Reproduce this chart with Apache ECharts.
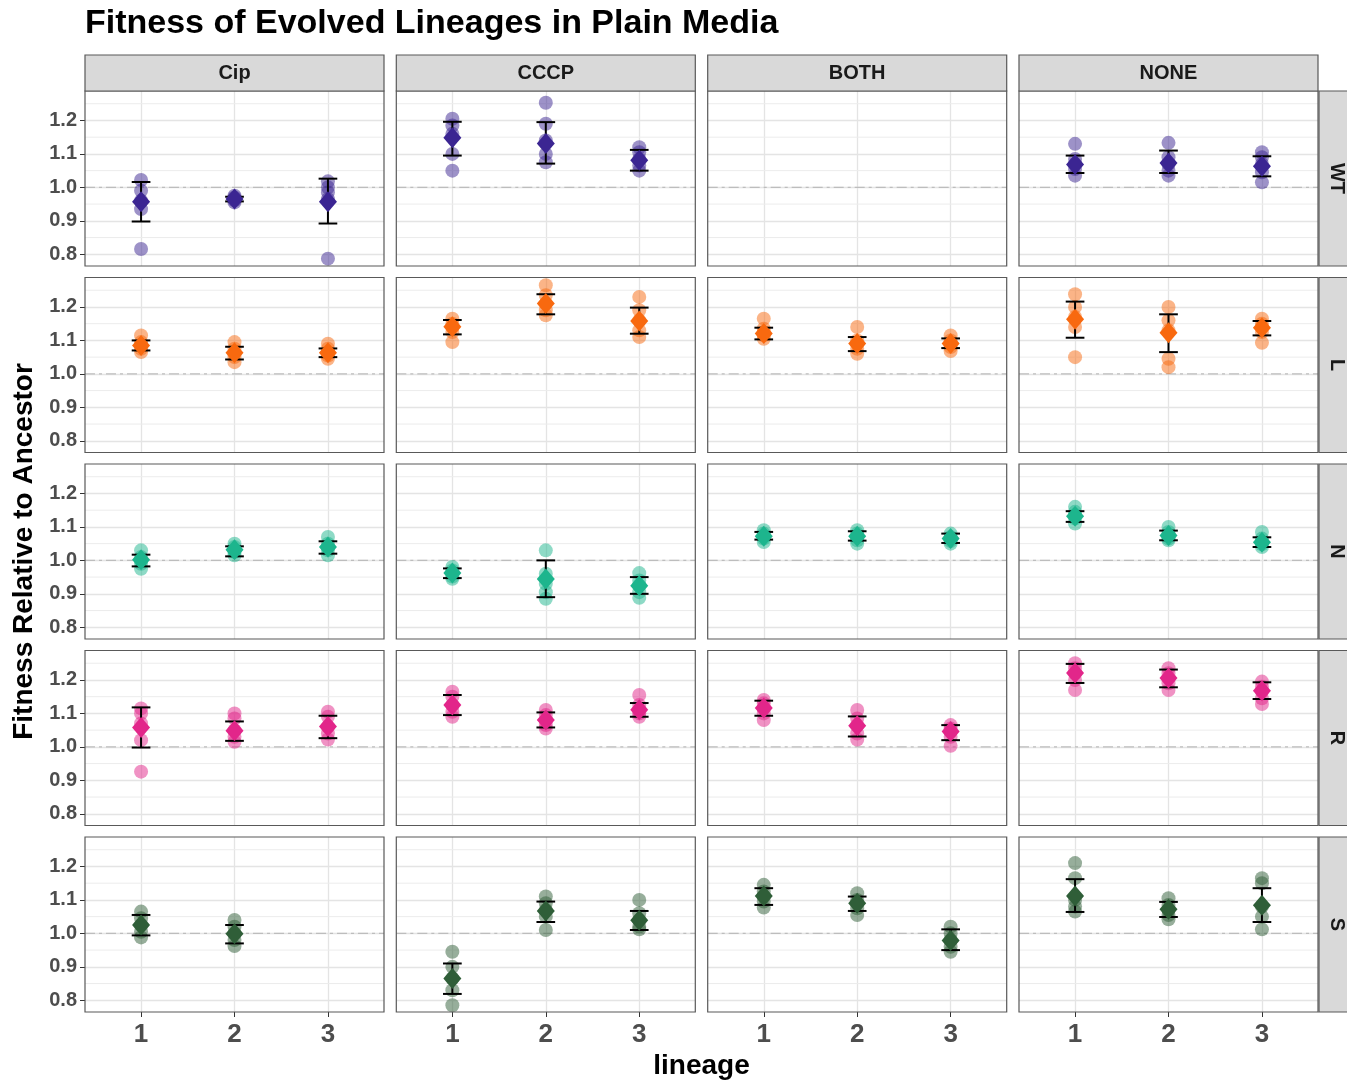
<!DOCTYPE html>
<html>
<head>
<meta charset="utf-8">
<script src="https://cdn.jsdelivr.net/npm/echarts@6/dist/echarts.min.js"></script>
<style>
  html, body { margin: 0; padding: 0; background: #ffffff; }
  #chart { width: 1347px; height: 1082px; }
</style>
</head>
<body>
<div id="chart"></div>
<script>
// Facet categories and axis breaks
const treatments = ['Cip', 'CCCP', 'BOTH', 'NONE'];
const strains = ['WT', 'L', 'N', 'R', 'S'];
const lineages = [1, 2, 3];
const yTicks = [0.8, 0.9, 1.0, 1.1, 1.2];
const yMinor = [0.85, 0.95, 1.05, 1.15, 1.25];
const ancestorLevel = [1.0];

// Replicate fitness values: [treatment][lineage] -> replicates
const repsWT = [
  [[1.022, 0.99, 0.96, 0.935, 0.816], [0.975, 0.97, 0.966, 0.961, 0.955], [1.018, 1.0, 0.985, 0.965, 0.787]],
  [[1.205, 1.185, 1.16, 1.10, 1.05], [1.253, 1.19, 1.14, 1.10, 1.075], [1.12, 1.105, 1.085, 1.065, 1.05]],
  [[], [], []],
  [[1.13, 1.085, 1.07, 1.055, 1.035], [1.133, 1.09, 1.07, 1.05, 1.035], [1.105, 1.09, 1.07, 1.045, 1.015]]
];
const repsL = [
  [[1.115, 1.095, 1.085, 1.075, 1.065], [1.095, 1.075, 1.06, 1.05, 1.035], [1.09, 1.075, 1.065, 1.055, 1.045]],
  [[1.165, 1.15, 1.14, 1.125, 1.095], [1.265, 1.235, 1.21, 1.19, 1.175], [1.23, 1.19, 1.16, 1.13, 1.11]],
  [[1.165, 1.135, 1.125, 1.115, 1.105], [1.14, 1.1, 1.09, 1.075, 1.06], [1.115, 1.1, 1.09, 1.08, 1.068]],
  [[1.238, 1.2, 1.17, 1.14, 1.05], [1.2, 1.16, 1.13, 1.045, 1.02], [1.165, 1.15, 1.14, 1.125, 1.093]]
];
const repsN = [
  [[1.03, 1.01, 1.0, 0.99, 0.975], [1.05, 1.04, 1.03, 1.025, 1.015], [1.07, 1.05, 1.04, 1.03, 1.015]],
  [[0.98, 0.97, 0.962, 0.952, 0.945], [1.03, 0.96, 0.93, 0.905, 0.885], [0.962, 0.94, 0.925, 0.905, 0.888]],
  [[1.09, 1.08, 1.072, 1.065, 1.055], [1.09, 1.08, 1.07, 1.06, 1.05], [1.08, 1.07, 1.065, 1.058, 1.05]],
  [[1.16, 1.145, 1.135, 1.125, 1.11], [1.1, 1.085, 1.075, 1.065, 1.06], [1.085, 1.065, 1.055, 1.048, 1.04]]
];
const repsR = [
  [[1.115, 1.1, 1.07, 1.02, 0.926], [1.1, 1.085, 1.05, 1.03, 1.015], [1.105, 1.09, 1.06, 1.04, 1.022]],
  [[1.165, 1.15, 1.125, 1.105, 1.09], [1.11, 1.095, 1.08, 1.065, 1.055], [1.155, 1.125, 1.11, 1.1, 1.09]],
  [[1.14, 1.13, 1.115, 1.1, 1.08], [1.11, 1.085, 1.065, 1.04, 1.022], [1.065, 1.055, 1.045, 1.03, 1.003]],
  [[1.25, 1.235, 1.22, 1.2, 1.17], [1.235, 1.22, 1.205, 1.19, 1.17], [1.195, 1.18, 1.165, 1.145, 1.128]]
];
const repsS = [
  [[1.065, 1.045, 1.025, 1.005, 0.988], [1.04, 1.02, 1.0, 0.98, 0.962], []],
  [[0.945, 0.9, 0.865, 0.83, 0.785], [1.11, 1.09, 1.07, 1.05, 1.01], [1.1, 1.06, 1.04, 1.02, 1.012]],
  [[1.145, 1.125, 1.11, 1.095, 1.077], [1.12, 1.1, 1.09, 1.075, 1.055], [1.02, 1.0, 0.98, 0.96, 0.945]],
  [[1.21, 1.165, 1.1, 1.08, 1.065], [1.105, 1.085, 1.07, 1.055, 1.042], [1.165, 1.15, 1.08, 1.05, 1.012]]
];

// Group means and error-bar limits: [treatment][lineage]
const meanWT = [[0.957, 0.965, 0.957], [1.148, 1.131, 1.081], [null, null, null], [1.068, 1.073, 1.063]];
const lowWT  = [[0.898, 0.958, 0.892], [1.095, 1.071, 1.050], [null, null, null], [1.043, 1.043, 1.033]];
const highWT = [[1.016, 0.972, 1.026], [1.196, 1.195, 1.112], [null, null, null], [1.095, 1.110, 1.093]];

const meanL = [[1.085, 1.063, 1.063], [1.141, 1.210, 1.158], [1.121, 1.091, 1.091], [1.163, 1.123, 1.138]];
const lowL  = [[1.070, 1.043, 1.050], [1.118, 1.178, 1.120], [1.103, 1.068, 1.077], [1.108, 1.065, 1.115]];
const highL = [[1.100, 1.081, 1.076], [1.161, 1.238, 1.198], [1.138, 1.110, 1.106], [1.216, 1.178, 1.158]];

const meanN = [[1.002, 1.032, 1.040], [0.962, 0.944, 0.924], [1.072, 1.072, 1.065], [1.132, 1.074, 1.054]];
const lowN  = [[0.982, 1.012, 1.020], [0.947, 0.890, 0.900], [1.062, 1.059, 1.052], [1.115, 1.060, 1.040]];
const highN = [[1.017, 1.042, 1.057], [0.976, 1.000, 0.950], [1.085, 1.087, 1.080], [1.147, 1.089, 1.069]];

const meanR = [[1.058, 1.048, 1.061], [1.125, 1.080, 1.111], [1.116, 1.063, 1.046], [1.221, 1.206, 1.168]];
const lowR  = [[0.998, 1.018, 1.026], [1.095, 1.058, 1.090], [1.093, 1.031, 1.020], [1.191, 1.178, 1.143]];
const highR = [[1.118, 1.076, 1.093], [1.155, 1.103, 1.131], [1.138, 1.091, 1.065], [1.248, 1.231, 1.193]];

const meanS = [[1.025, 0.999, null], [0.865, 1.067, 1.039], [1.112, 1.090, 0.979], [1.112, 1.072, 1.084]];
const lowS  = [[0.994, 0.970, null], [0.819, 1.034, 1.010], [1.085, 1.067, 0.950], [1.064, 1.049, 1.034]];
const highS = [[1.055, 1.025, null], [0.910, 1.095, 1.067], [1.135, 1.110, 1.012], [1.162, 1.094, 1.135]];

const strainReps  = [repsWT, repsL, repsN, repsR, repsS];
const strainMean  = [meanWT, meanL, meanN, meanR, meanS];
const strainLow   = [lowWT, lowL, lowN, lowR, lowS];
const strainHigh  = [highWT, highL, highN, highR, highS];

// Styling and layout
const strainColors = ['#3b2592', '#f8690f', '#1db58d', '#e2268a', '#2f5e38'];
const FONT = '"Liberation Sans", Arial, Helvetica, sans-serif';
const PANEL_W = 299, PANEL_H = 175;
const colLeft = [85, 396.3, 707.7, 1019];
const rowTop = [91, 277.5, 464, 650.5, 837];
const X_MIN = 0.4, X_MAX = 3.6, Y_MIN = 0.765, Y_MAX = 1.288;
const CAP_HALF = 0.1;

const grids = [], xAxes = [], yAxes = [], series = [], graphics = [];

strains.forEach((strain, r) => {
  treatments.forEach((trt, c) => {
    const gi = r * treatments.length + c;
    const bottomRow = r === strains.length - 1;
    const firstCol = c === 0;
    const color = strainColors[r];

    grids.push({ left: colLeft[c], top: rowTop[r], width: PANEL_W, height: PANEL_H, show: false });

    xAxes.push({
      gridIndex: gi, type: 'value', min: X_MIN, max: X_MAX,
      minInterval: 1, maxInterval: 1,
      axisLine: { show: false },
      axisTick: { show: bottomRow, customValues: lineages, length: 5, lineStyle: { color: '#333333', width: 1 } },
      axisLabel: {
        show: bottomRow, customValues: lineages, margin: 10,
        color: '#4d4d4d', fontSize: 26, fontWeight: 'bold', fontFamily: FONT
      },
      splitLine: { show: true, lineStyle: { color: '#e4e4e4', width: 1.3 } }
    });

    yAxes.push({
      gridIndex: gi, type: 'value', min: Y_MIN, max: Y_MAX,
      minInterval: 0.1, maxInterval: 0.1,
      axisLine: { show: false },
      axisTick: { show: firstCol, customValues: yTicks, length: 5, lineStyle: { color: '#333333', width: 1 } },
      axisLabel: {
        show: firstCol, customValues: yTicks, margin: 8,
        formatter: v => v.toFixed(1),
        color: '#4d4d4d', fontSize: 20, fontWeight: 'bold', fontFamily: FONT
      },
      splitLine: { show: true, lineStyle: { color: '#e4e4e4', width: 1.3 } }
    });

    // minor horizontal grid lines
    series.push({
      type: 'custom', xAxisIndex: gi, yAxisIndex: gi, z: 1, silent: true,
      data: yMinor.map(v => [v]),
      renderItem: (params, api) => {
        const v = api.value(0);
        const a = api.coord([X_MIN, v]), b = api.coord([X_MAX, v]);
        return { type: 'line', shape: { x1: a[0], y1: a[1], x2: b[0], y2: b[1] },
                 style: { stroke: '#ececec', lineWidth: 1 } };
      }
    });

    // ancestor reference line
    series.push({
      type: 'custom', xAxisIndex: gi, yAxisIndex: gi, z: 2, silent: true,
      data: ancestorLevel.map(v => [v]),
      renderItem: (params, api) => {
        const v = api.value(0);
        const a = api.coord([X_MIN, v]), b = api.coord([X_MAX, v]);
        return { type: 'line', shape: { x1: a[0], y1: a[1], x2: b[0], y2: b[1] },
                 style: { stroke: '#bdbdbd', lineWidth: 1.4, lineDash: [10, 4, 3, 4] } };
      }
    });

    const reps = strainReps[r][c];
    const mean = strainMean[r][c];
    const low = strainLow[r][c];
    const high = strainHigh[r][c];

    // replicate points
    const pts = [];
    lineages.forEach((lin, i) => reps[i].forEach(v => pts.push([lin, v])));
    series.push({
      type: 'scatter', xAxisIndex: gi, yAxisIndex: gi, z: 3, silent: true,
      symbol: 'circle', symbolSize: 14,
      itemStyle: { color: color, opacity: 0.5 },
      data: pts
    });

    // error bars
    const bars = [];
    lineages.forEach((lin, i) => { if (mean[i] != null) bars.push([lin, low[i], high[i]]); });
    series.push({
      type: 'custom', xAxisIndex: gi, yAxisIndex: gi, z: 4, silent: true,
      data: bars,
      renderItem: (params, api) => {
        const x = api.value(0), lo = api.value(1), hi = api.value(2);
        const pLo = api.coord([x, lo]), pHi = api.coord([x, hi]);
        const half = api.size([CAP_HALF, 0])[0];
        const st = { stroke: '#000000', lineWidth: 2 };
        return {
          type: 'group',
          children: [
            { type: 'line', shape: { x1: pLo[0], y1: pLo[1], x2: pHi[0], y2: pHi[1] }, style: st },
            { type: 'line', shape: { x1: pHi[0] - half, y1: pHi[1], x2: pHi[0] + half, y2: pHi[1] }, style: st },
            { type: 'line', shape: { x1: pLo[0] - half, y1: pLo[1], x2: pLo[0] + half, y2: pLo[1] }, style: st }
          ]
        };
      }
    });

    // group means
    const means = [];
    lineages.forEach((lin, i) => { if (mean[i] != null) means.push([lin, mean[i]]); });
    series.push({
      type: 'scatter', xAxisIndex: gi, yAxisIndex: gi, z: 5, silent: true,
      symbol: 'diamond', symbolSize: [18, 21],
      itemStyle: { color: color, opacity: 1 },
      data: means
    });

    // panel border
    graphics.push({
      type: 'rect', z: 100, silent: true,
      shape: { x: colLeft[c], y: rowTop[r], width: PANEL_W, height: PANEL_H },
      style: { fill: 'none', stroke: '#595959', lineWidth: 1.2 }
    });
  });
});

// column strips
treatments.forEach((trt, c) => {
  graphics.push({
    type: 'rect', z: 100, silent: true,
    shape: { x: colLeft[c], y: 55, width: PANEL_W, height: 36 },
    style: { fill: '#d9d9d9', stroke: '#595959', lineWidth: 1.2 }
  });
  graphics.push({
    type: 'text', z: 101, silent: true, x: colLeft[c] + PANEL_W / 2, y: 73,
    style: { text: trt, font: 'bold 20px ' + FONT, fill: '#1a1a1a', align: 'center', verticalAlign: 'middle' }
  });
});

// row strips
strains.forEach((strain, r) => {
  graphics.push({
    type: 'rect', z: 100, silent: true,
    shape: { x: 1319, y: rowTop[r], width: 36, height: PANEL_H },
    style: { fill: '#d9d9d9', stroke: '#595959', lineWidth: 1.2 }
  });
  graphics.push({
    type: 'text', z: 101, silent: true, x: 1337, y: rowTop[r] + PANEL_H / 2, rotation: -Math.PI / 2,
    style: { text: strain, font: 'bold 20px ' + FONT, fill: '#1a1a1a', align: 'center', verticalAlign: 'middle' }
  });
});

// titles
graphics.push({
  type: 'text', z: 101, silent: true, x: 85, y: 24,
  style: { text: 'Fitness of Evolved Lineages in Plain Media', font: 'bold 34px ' + FONT, fill: '#000000', align: 'left', verticalAlign: 'middle' }
});
graphics.push({
  type: 'text', z: 101, silent: true, x: 701.5, y: 1066,
  style: { text: 'lineage', font: 'bold 28px ' + FONT, fill: '#000000', align: 'center', verticalAlign: 'middle' }
});
graphics.push({
  type: 'text', z: 101, silent: true, x: 24, y: 551.5, rotation: Math.PI / 2,
  style: { text: 'Fitness Relative to Ancestor', font: 'bold 28px ' + FONT, fill: '#000000', align: 'center', verticalAlign: 'middle' }
});

const chart = echarts.init(document.getElementById('chart'), null, { renderer: 'canvas' });
chart.setOption({
  animation: false,
  backgroundColor: '#ffffff',
  grid: grids,
  xAxis: xAxes,
  yAxis: yAxes,
  series: series,
  graphic: graphics
});
</script>
</body>
</html>
